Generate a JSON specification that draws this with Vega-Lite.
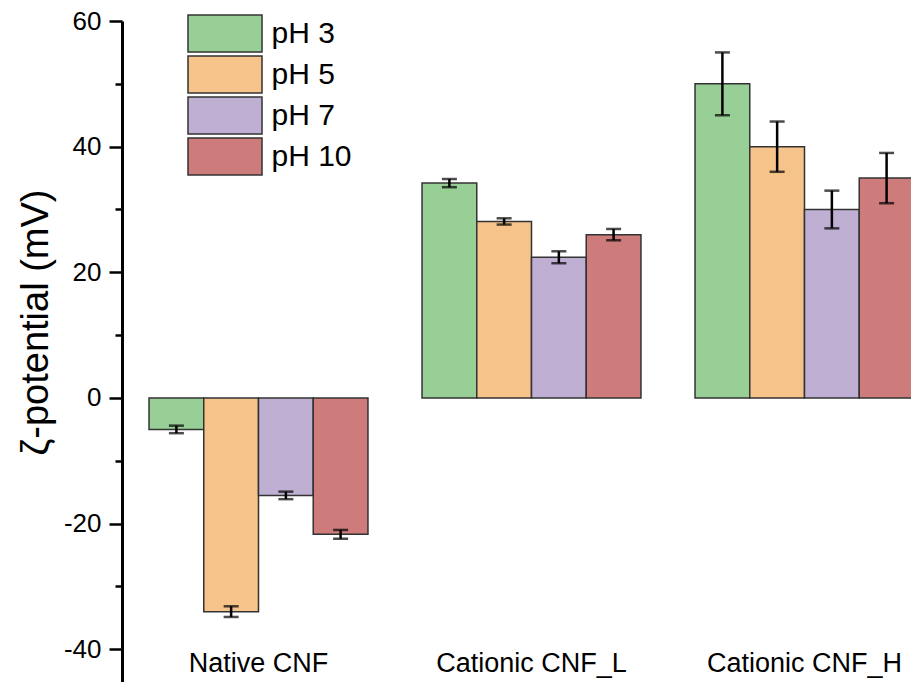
{
  "$schema": "https://vega.github.io/schema/vega-lite/v6.json",
  "autosize": {"type": "none"},
  "padding": {"left": 122, "top": 21, "right": 0, "bottom": 0},
  "width": 789,
  "height": 661,
  "background": "white",
  "config": {
    "view": {"stroke": null},
    "font": "Liberation Sans"
  },
  "data": {
    "values": [
      {"sample": "Native CNF", "pH": "pH 3", "zeta": -5.0, "err": 0.6},
      {"sample": "Native CNF", "pH": "pH 5", "zeta": -34.0, "err": 0.85},
      {"sample": "Native CNF", "pH": "pH 7", "zeta": -15.5, "err": 0.6},
      {"sample": "Native CNF", "pH": "pH 10", "zeta": -21.7, "err": 0.7},
      {"sample": "Cationic CNF_L", "pH": "pH 3", "zeta": 34.2, "err": 0.65},
      {"sample": "Cationic CNF_L", "pH": "pH 5", "zeta": 28.1, "err": 0.5},
      {"sample": "Cationic CNF_L", "pH": "pH 7", "zeta": 22.4, "err": 0.95},
      {"sample": "Cationic CNF_L", "pH": "pH 10", "zeta": 26.0, "err": 0.9},
      {"sample": "Cationic CNF_H", "pH": "pH 3", "zeta": 50.0, "err": 5.0},
      {"sample": "Cationic CNF_H", "pH": "pH 5", "zeta": 40.0, "err": 4.0},
      {"sample": "Cationic CNF_H", "pH": "pH 7", "zeta": 30.0, "err": 3.0},
      {"sample": "Cationic CNF_H", "pH": "pH 10", "zeta": 35.0, "err": 4.0}
    ]
  },
  "encoding": {
    "x": {
      "field": "sample",
      "type": "nominal",
      "sort": ["Native CNF", "Cationic CNF_L", "Cationic CNF_H"],
      "scale": {"range": [0, 819], "paddingInner": 0.198, "paddingOuter": 0.099},
      "axis": {
        "title": null,
        "domain": false,
        "ticks": false,
        "labelAngle": 0,
        "labelFontSize": 27,
        "labelColor": "black",
        "labelPadding": 2,
        "labelLimit": 400,
        "offset": -34
      }
    },
    "xOffset": {
      "field": "pH",
      "type": "nominal",
      "sort": ["pH 3", "pH 5", "pH 7", "pH 10"],
      "scale": {"paddingInner": 0, "paddingOuter": 0}
    },
    "y": {
      "field": "zeta",
      "type": "quantitative",
      "scale": {"domain": [-45.2, 60], "nice": false, "zero": false},
      "axis": {
        "title": "ζ-potential (mV)",
        "titleFontSize": 38,
        "titleFontWeight": "normal",
        "titleColor": "black",
        "titleX": -86,
        "titleY": 301,
        "titleBaseline": "middle",
        "values": [-40, -30, -20, -10, 0, 10, 20, 30, 40, 50, 60],
        "labelExpr": "datum.value % 20 === 0 ? toString(datum.value) : ''",
        "labelFontSize": 26,
        "labelColor": "black",
        "labelPadding": 8,
        "tickSize": {"condition": {"test": "datum.value % 20 === 0", "value": 13}, "value": 7},
        "tickWidth": 2.5,
        "tickColor": "black",
        "domainColor": "black",
        "domainWidth": 3,
        "grid": false
      }
    }
  },
  "layer": [
    {
      "mark": {"type": "bar", "stroke": "#333333", "strokeWidth": 1.5, "opacity": 1},
      "encoding": {
        "color": {
          "field": "pH",
          "type": "nominal",
          "sort": ["pH 3", "pH 5", "pH 7", "pH 10"],
          "scale": {"range": ["#98cf96", "#f6c38a", "#bfb0d3", "#cd7b7b"]},
          "legend": {
            "title": null,
            "orient": "none",
            "legendX": 83.5,
            "legendY": -7,
            "padding": 0,
            "symbolType": "M-2,-1H2V1H-2Z",
            "symbolSize": 1369,
            "symbolStrokeColor": "#333333",
            "symbolStrokeWidth": 1.5,
            "symbolOpacity": 1,
            "labelFontSize": 30,
            "labelColor": "black",
            "labelOffset": 27,
            "rowPadding": -2,
            "labelLimit": 300
          }
        }
      }
    },
    {
      "mark": {"type": "errorbar", "color": "black", "thickness": 2.5, "ticks": {"size": 15, "thickness": 2.5, "color": "black"}},
      "encoding": {
        "yError": {"field": "err"}
      }
    }
  ]
}
